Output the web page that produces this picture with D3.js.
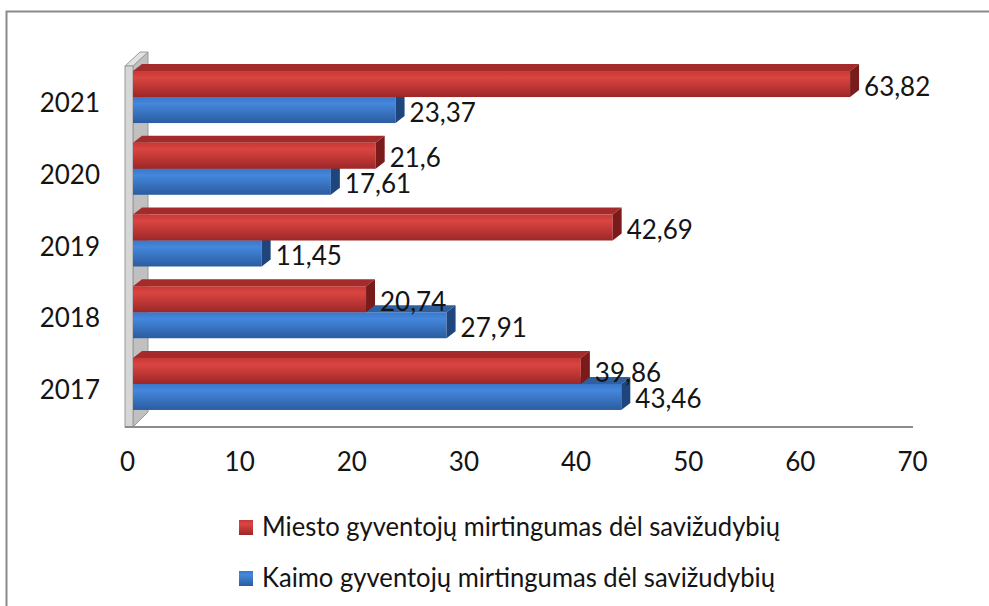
<!DOCTYPE html>
<html>
<head>
<meta charset="utf-8">
<script src="https://cdn.jsdelivr.net/npm/d3@7"></script>
<style>
  html, body { margin: 0; padding: 0; background: #fff; }
  svg { display: block; font-family: Lato, "Open Sans", sans-serif; }
  text { fill: #141414; }
</style>
</head>
<body>
<svg id="chart" width="989" height="606"></svg>
<script>
const years = ['2017', '2018', '2019', '2020', '2021']
const miesto = [39.86, 20.74, 42.69, 21.6, 63.82]
const kaimo = [43.46, 27.91, 11.45, 17.61, 23.37]
const xTicks = [0, 10, 20, 30, 40, 50, 60, 70]
const seriesNames = ['Miesto gyventojų mirtingumas dėl savižudybių', 'Kaimo gyventojų mirtingumas dėl savižudybių']
const seriesKeys = ['miesto', 'kaimo']

const DX = 9, DY = -7

const svg = d3.select('#chart')

const x = d3.scaleLinear().domain([0, 70]).range([133, 919.5])
const xFront = x.copy().range([127, 912])
const y = d3.scaleBand().domain(years.slice().reverse()).range([61, 420])
  .paddingInner(0.275).paddingOuter(0.14)
const ySub = d3.scaleBand().domain(seriesKeys).range([0, y.bandwidth()])

const colors = {
  miesto: { light: '#da4541', mid: '#c73836', dark: '#9c2727', top: '#a52a2a', end: '#7a1b1b' },
  kaimo: { light: '#4487dc', mid: '#3a77c9', dark: '#2b5c9f', top: '#2f5f9f', end: '#1f467c' }
}

const defs = svg.append('defs')
seriesKeys.forEach(k => {
  const g = defs.append('linearGradient').attr('id', 'grad-' + k)
    .attr('x1', 0).attr('y1', 0).attr('x2', 0).attr('y2', 1)
  g.append('stop').attr('offset', '0%').attr('stop-color', colors[k].mid)
  g.append('stop').attr('offset', '25%').attr('stop-color', colors[k].light)
  g.append('stop').attr('offset', '100%').attr('stop-color', colors[k].dark)
})

// chart frame
svg.append('rect')
  .attr('x', 6.5).attr('y', 11.5).attr('width', 1000).attr('height', 620)
  .attr('fill', 'none').attr('stroke', '#8a8a8a').attr('stroke-width', 2)

// side wall (category axis plane)
const x0 = x(0)
const wallTop = 66, wallBottom = 427
svg.append('path')
  .attr('d', `M${x0},${wallTop} L${x0 + 15},${wallTop - 14} L${x0 + 15},${wallBottom - 15} L${x0},${wallBottom} Z`)
  .attr('fill', '#c0c0c0').attr('stroke', '#9a9a9a').attr('stroke-width', 1)
svg.append('path')
  .attr('d', `M${x0 - 8},${wallTop} L${x0},${wallTop} L${x0 + 15},${wallTop - 14} L${x0 + 7},${wallTop - 14} Z`)
  .attr('fill', '#e2e2e2').attr('stroke', '#9a9a9a').attr('stroke-width', 1)
svg.append('rect')
  .attr('x', x0 - 8).attr('y', wallTop).attr('width', 8).attr('height', wallBottom - wallTop)
  .attr('fill', '#d6d6d6').attr('stroke', '#9a9a9a').attr('stroke-width', 1)

// floor edge
svg.append('line')
  .attr('x1', x0 - 8).attr('x2', xFront(70) + 1).attr('y1', wallBottom).attr('y2', wallBottom)
  .attr('stroke', '#8c8c8c').attr('stroke-width', 2)

// bars: blue first so red sits on top of it
const bars = []
years.forEach((yr, i) => {
  bars.push({ year: yr, key: 'kaimo', value: kaimo[i] })
  bars.push({ year: yr, key: 'miesto', value: miesto[i] })
})

const barG = svg.append('g').selectAll('g').data(bars).join('g')
barG.each(function (d) {
  const g = d3.select(this)
  const xa = x(0), xb = x(d.value)
  const ya = y(d.year) + ySub(d.key), yb = ya + ySub.bandwidth()
  const c = colors[d.key]
  g.append('path')
    .attr('d', `M${xa},${ya} L${xb},${ya} L${xb + DX},${ya + DY} L${xa + DX},${ya + DY} Z`)
    .attr('fill', c.top)
  g.append('rect')
    .attr('x', xa).attr('y', ya).attr('width', xb - xa).attr('height', yb - ya)
    .attr('fill', `url(#grad-${d.key})`)
  g.append('path')
    .attr('d', `M${xb},${ya} L${xb + DX},${ya + DY} L${xb + DX},${yb + DY} L${xb},${yb} Z`)
    .attr('fill', c.end)
})

// value labels
svg.append('g').selectAll('text').data(bars).join('text')
  .attr('x', d => x(d.value) + 14)
  .attr('y', d => y(d.year) + ySub(d.key) + ySub.bandwidth() / 2 + 11.5)
  .attr('font-size', 26)
  .text(d => String(d.value).replace('.', ','))

// category labels
svg.append('g').selectAll('text').data(years).join('text')
  .attr('x', 100)
  .attr('y', d => y(d) + y.bandwidth() / 2 + 15)
  .attr('text-anchor', 'end')
  .attr('font-size', 26)
  .text(d => d)

// value axis labels on the front edge
const axis = svg.append('g')
  .attr('transform', 'translate(0,471)')
  .call(d3.axisBottom(xFront).tickValues(xTicks).tickSize(0).tickPadding(0).tickFormat(d3.format('d')))
axis.select('.domain').remove()
axis.selectAll('text')
  .attr('dy', 0)
  .attr('font-size', 26)
  .attr('font-family', 'Lato, "Open Sans", sans-serif')
  .attr('fill', '#141414')

// legend
const legend = svg.append('g').selectAll('g').data(seriesKeys).join('g')
  .attr('transform', (d, i) => `translate(239,${520 + i * 51})`)
legend.append('rect')
  .attr('width', 14).attr('height', 15)
  .attr('fill', d => `url(#grad-${d})`)
legend.append('text')
  .attr('x', 23).attr('y', 16)
  .attr('font-size', 26)
  .attr('textLength', (d, i) => i === 0 ? 518 : 513)
  .attr('lengthAdjust', 'spacingAndGlyphs')
  .text((d, i) => seriesNames[i])
</script>
</body>
</html>
